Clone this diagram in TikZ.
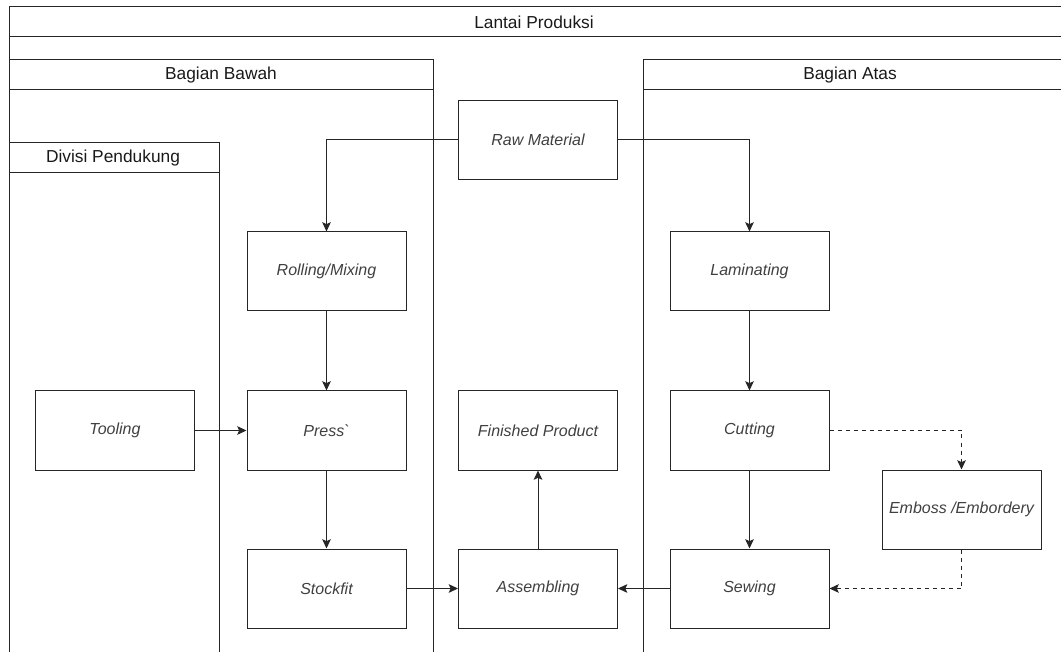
\documentclass[tikz,border=0pt]{standalone}
\usepackage{fontspec}
\setmainfont{Liberation Sans}
\usetikzlibrary{arrows.meta}
\begin{document}
\begin{tikzpicture}[x=0.75pt,y=-0.75pt,line width=0.75pt,draw=black!85,
    proc/.style={draw,minimum width=119.25pt,minimum height=59.25pt,inner sep=0pt,
      font=\fontsize{12}{14}\selectfont\itshape,text=black!75},
    lanetitle/.style={font=\fontsize{13}{15}\selectfont,text=black!90,inner sep=0pt},
    flow/.style={-{Stealth[length=7pt,width=6.5pt,inset=1.5pt]}}]
      \useasboundingbox (0,0) rectangle (1061,652);
      \clip (0,0) rectangle (1061,652);
      % lanes
      \draw (9,7) rectangle (1070,670);
      \draw (9,37) -- (1070,37);
      \node (lantai) at (534,22) [lanetitle] {Lantai Produksi};
      \draw (9,60) rectangle (433,670);
      \draw (9,90) -- (433,90);
      \node (bawah) at (221,75) [lanetitle] {Bagian Bawah};
      \draw (643,60) rectangle (1070,670);
      \draw (643,90) -- (1070,90);
      \node (atas) at (850,75) [lanetitle] {Bagian Atas};
      \draw (9,143) rectangle (219,670);
      \draw (9,173) -- (219,173);
      \node (divisi) at (113,158) [lanetitle] {Divisi Pendukung};
      % process boxes
      \node (raw) at (538,140) [proc] {Raw Material};
      \node (roll) at (326.5,271.5) [proc] {Rolling/Mixing};
      \node (lam) at (749.5,271.5) [proc] {Laminating};
      \node (tool) at (115,430.5) [proc] {Tooling};
      \node (press) at (326.5,430.5) [proc] {Press\textasciigrave};
      \node (fin) at (538,430.5) [proc] {Finished Product};
      \node (cut) at (749.5,430.5) [proc] {Cutting};
      \node (emb) at (961.5,509.5) [proc] {Emboss /Embordery};
      \node (stock) at (326.5,588.5) [proc] {Stockfit};
      \node (asm) at (538,588.5) [proc] {Assembling};
      \node (sew) at (749.5,588.5) [proc] {Sewing};
      % flow
      \draw[flow] (raw.west) -| (roll.north);
      \draw[flow] (raw.east) -| (lam.north);
      \draw[flow] (roll) -- (press);
      \draw[flow] (tool) -- (press);
      \draw[flow] (press) -- (stock);
      \draw[flow] (stock) -- (asm);
      \draw[flow] (asm) -- (fin);
      \draw[flow] (sew) -- (asm);
      \draw[flow] (lam) -- (cut);
      \draw[flow] (cut) -- (sew);
      \draw[flow,dashed] (cut.east) -| (emb.north);
      \draw[flow,dashed] (emb.south) |- (sew.east);
    \end{tikzpicture}
\end{document}
